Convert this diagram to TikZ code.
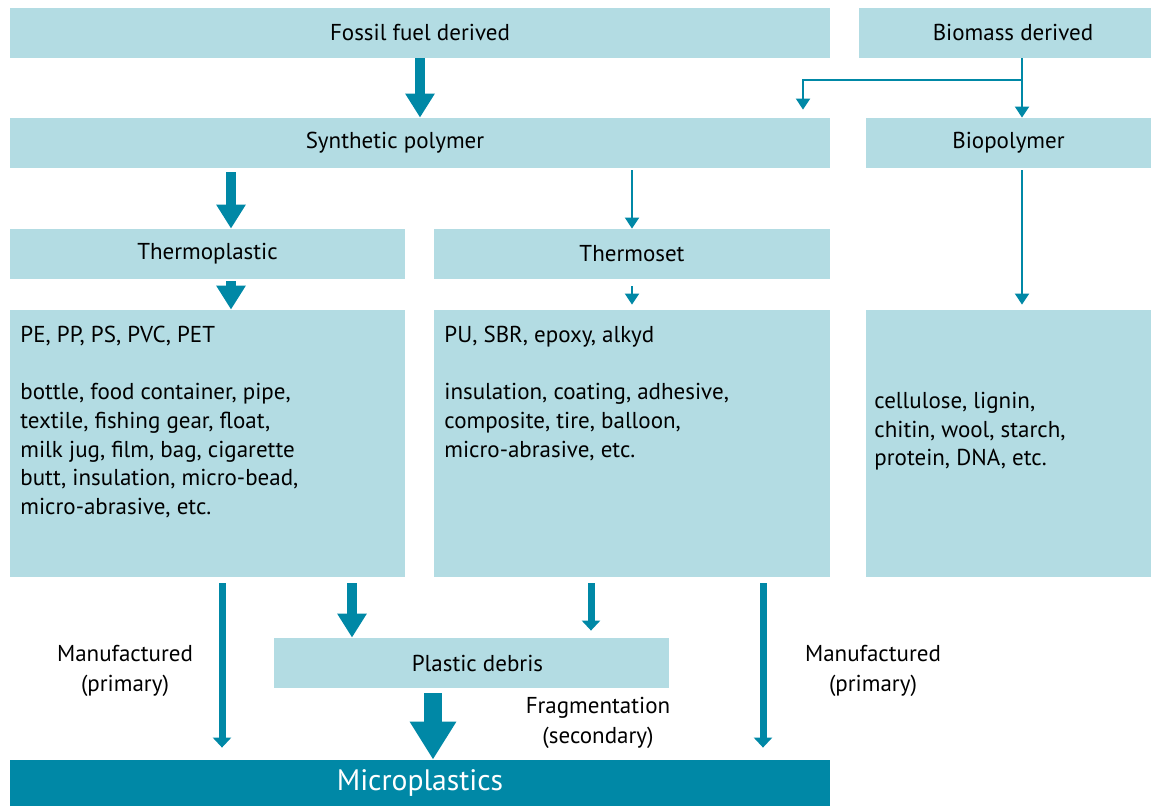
\documentclass[tikz,border=0pt]{standalone}
\usepackage{fontspec}
\setmainfont{PT Sans}
\usetikzlibrary{arrows.meta,calc,positioning}
\definecolor{boxblue}{RGB}{179,220,227}
\definecolor{deepteal}{RGB}{0,136,166}

\begin{document}
\begin{tikzpicture}[x=0.5pt, y=-0.5pt,
  box/.style={fill=boxblue, inner sep=0pt, minimum height=25pt, font=\fontsize{11.5}{14.3}\selectfont},
  listtext/.style={anchor=north west, inner sep=0pt, align=left, font=\fontsize{11.5}{14.3}\selectfont},
  lbl/.style={align=center, inner sep=0pt, font=\fontsize{11.5}{15}\selectfont},
  bigarrow/.style={-{Triangle[width=14pt,length=12pt]}, line width=5pt, draw=deepteal},
  hugearrow/.style={-{Triangle[width=22pt,length=19pt]}, line width=9pt, draw=deepteal},
  medarrow/.style={-{Triangle[width=9pt,length=5pt]}, line width=3.5pt, draw=deepteal},
  thinarrow/.style={-{Triangle[width=7pt,length=5.5pt]}, line width=1pt, draw=deepteal},
]
\useasboundingbox (0,0) rectangle (1156,806);

% === SOURCES ===
\node[box, minimum width=410pt] (fossil) at (420,33) {\raisebox{-1pt}{Fossil fuel derived}};
\node[box, minimum width=146pt] (biomass) at (1005,33) {\hspace*{8pt}Biomass derived};

% === POLYMERS ===
\node[box, minimum width=410pt] (synth) at (420,143) {\hspace*{-25pt}Synthetic polymer};
\node[box, minimum width=142.5pt] (biopoly) at (1008.5,143) {Biopolymer};
\node[box, minimum width=197.5pt] (thermoP) at (207.5,254) {Thermoplastic};
\node[box, minimum width=198pt] (thermoS) at (632,254) {Thermoset};

% === EXAMPLES ===
\node[box, minimum width=197.5pt, minimum height=133.5pt] (peBox) at (207.5,443.5) {};
\node[box, minimum width=198pt, minimum height=133.5pt] (puBox) at (632,443.5) {};
\node[box, minimum width=142.5pt, minimum height=133.5pt] (bioBox) at (1008.5,443.5) {};

\node[listtext] (peText) at (20,326) {PE, PP, PS, PVC, PET\\[14.3pt]
  bottle, food container, pipe,\\textile, fishing gear, float,\\milk jug, film, bag, cigarette\\
  butt, insulation, micro-bead,\\micro-abrasive, etc.};
\node[listtext] (puText) at (444,326) {PU, SBR, epoxy, alkyd\\[14.3pt]
  insulation, coating, adhesive,\\composite, tire, balloon,\\micro-abrasive, etc.};
\node[listtext] (bioText) at (874,392) {cellulose, lignin,\\chitin, wool, starch,\\protein, DNA, etc.};

% === DEBRIS AND MICROPLASTICS ===
\node[box, minimum width=197.5pt] (debris) at (471.5,663) {\hspace*{6pt}Plastic debris};
\node[fill=deepteal, inner sep=0pt, minimum width=410pt, minimum height=23pt,
  text=white, font=\fontsize{14.8}{18}\selectfont] (micro) at (420,783) {\raisebox{-2pt}{Microplastics}};

\node[lbl] (manL) at (125,671) {Manufactured\\(primary)};
\node[lbl] (manR) at (873,671) {Manufactured\\(primary)};
\node[lbl] (frag) at (598,723) {Fragmentation\\(secondary)};

% --- x positions of the arrows ---
\coordinate (bioX) at (1022,0);
\coordinate (brX) at (803,0);
\coordinate (split) at (1022,80);
\coordinate (pX) at (231,0);
\coordinate (aX) at (222,0);
\coordinate (bX) at (352,0);
\coordinate (cX) at (591,0);
\coordinate (dX) at (763,0);
\coordinate (eX) at (433,0);

% === ARROWS ===
\draw[bigarrow] (fossil.south) -- (synth.north);
\draw[thinarrow] (biomass.south -| bioX) -- (biopoly.north -| bioX);
\draw[thinarrow] (split) -| ($(synth.north -| brX)+(0,-8)$);

\draw[bigarrow] ($(synth.south -| pX)+(0,4)$) -- (thermoP.north -| pX);
\draw[bigarrow] ($(thermoP.south -| pX)+(0,2)$) -- (peBox.north -| pX);
\draw[thinarrow] ($(synth.south -| thermoS)+(0,2)$) -- (thermoS.north);
\draw[thinarrow] ($(thermoS.south)+(0,7)$) -- ($(puBox.north)+(0,-5)$);
\draw[thinarrow] ($(biopoly.south -| bioX)+(0,2)$) -- ($(bioBox.north -| bioX)+(0,-5)$);

\draw[medarrow] ($(peBox.south -| aX)+(0,6)$) -- ($(micro.north -| aX)+(0,-12)$);
\draw[bigarrow] ($(peBox.south -| bX)+(0,6)$) -- (debris.north -| bX);
\draw[medarrow] ($(puBox.south -| cX)+(0,6)$) -- ($(debris.north -| cX)+(0,-7)$);
\draw[medarrow] ($(puBox.south -| dX)+(0,6)$) -- ($(micro.north -| dX)+(0,-12)$);
\draw[hugearrow] ($(debris.south -| eX)+(0,5)$) -- (micro.north -| eX);
\end{tikzpicture}
\end{document}
